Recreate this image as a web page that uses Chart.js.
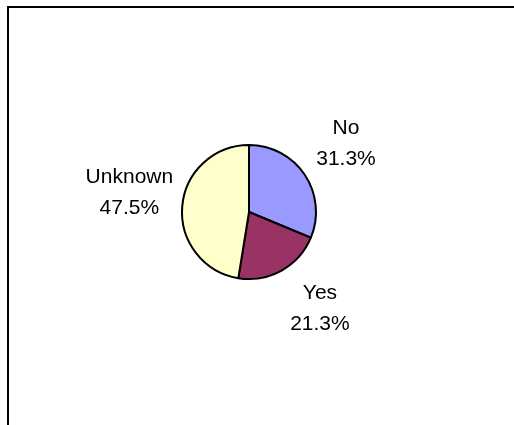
<!DOCTYPE html>
<html>
<head>
<meta charset="utf-8">
<script src="https://cdn.jsdelivr.net/npm/chart.js@4/dist/chart.umd.min.js"></script>
<style>
  html, body { margin: 0; padding: 0; background: #fff; }
  #wrap { position: relative; width: 514px; height: 425px; overflow: hidden; }
  #frame {
    position: absolute; left: 7px; top: 6px; width: 600px; height: 600px;
    border-left: 2px solid #000; border-top: 2px solid #000;
  }
  #chart { position: absolute; left: 0; top: 0; }
</style>
</head>
<body>
<div id="wrap">
  <div id="frame"></div>
  <canvas id="chart" width="514" height="425"></canvas>
</div>
<script>
// Slices, clockwise from 12 o'clock
const labels = ['No', 'Yes', 'Unknown'];
const values = [31.3, 21.3, 47.5];
const colors = ['#9999FF', '#993366', '#FFFFCC'];

// Draws "label / xx.x%" next to each slice, outside the pie
const outsideLabels = {
  id: 'outsideLabels',
  afterDatasetsDraw(chart, args, opts) {
    const ctx = chart.ctx;
    const arcs = chart.getDatasetMeta(0).data;
    ctx.save();
    ctx.fillStyle = '#000';
    ctx.font = opts.font;
    ctx.textAlign = 'center';
    ctx.textBaseline = 'middle';
    arcs.forEach((arc, i) => {
      const mid = (arc.startAngle + arc.endAngle) / 2;
      const r = arc.outerRadius + opts.gap;
      const nudge = opts.nudge[i] || [0, 0];
      const x = arc.x + Math.cos(mid) * r + nudge[0];
      const y = arc.y + Math.sin(mid) * r + nudge[1];
      ctx.fillText(labels[i], x, y - opts.lineHeight / 2);
      ctx.fillText(values[i].toFixed(1) + '%', x, y + opts.lineHeight / 2);
    });
    ctx.restore();
  }
};

new Chart(document.getElementById('chart'), {
  type: 'pie',
  data: {
    labels: labels,
    datasets: [{
      data: values,
      backgroundColor: colors,
      borderColor: '#000',
      borderWidth: 2
    }]
  },
  options: {
    responsive: false,
    animation: false,
    layout: { padding: { left: 181, right: 197, top: 144, bottom: 145 } },
    plugins: {
      legend: { display: false },
      tooltip: { enabled: false },
      outsideLabels: {
        font: '21px "Liberation Sans", Arial, sans-serif',
        lineHeight: 31,
        gap: 52,
        nudge: [[-2, -2], [13, -7], [-1, -10]]
      }
    }
  },
  plugins: [outsideLabels]
});
</script>
</body>
</html>
